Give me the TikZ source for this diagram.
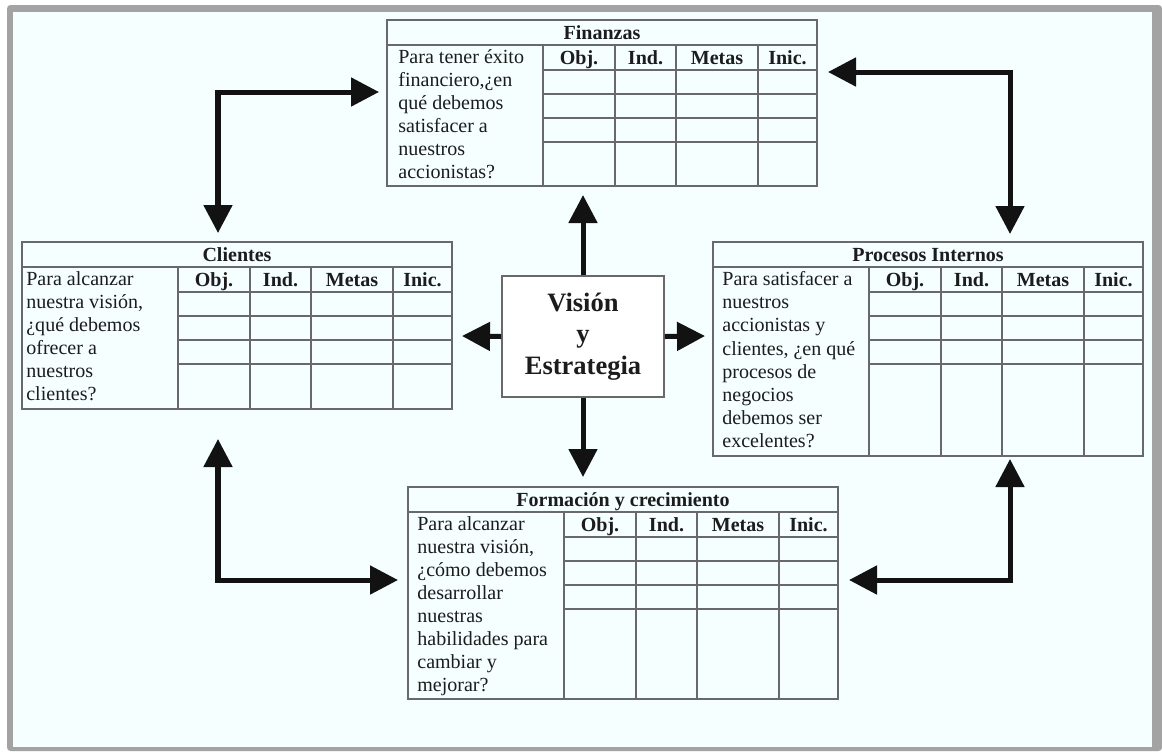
\documentclass[tikz,border=0pt]{standalone}
\usepackage{fontspec}
\setmainfont{Liberation Serif}
\usetikzlibrary{arrows.meta}
\definecolor{fondo}{RGB}{245,255,255}
\definecolor{marco}{RGB}{163,163,163}
\definecolor{rejilla}{RGB}{105,105,105}
\definecolor{tinta}{RGB}{28,28,28}

% one perspective: name, x, y, height, text offset, title, question
\newcommand\tabla[7]{%
  \begin{scope}[shift={(#2,#3)}]
    \node[caja,minimum height=#4*0.02cm] (#1) at (0,0) {};
    \draw[linea] (0,25) -- (430,25);
    \foreach \cx in {156,228,289,371}
      \draw[linea] (\cx,25) -- (\cx,#4);
    \foreach \ry in {50,74,98,122}
      \draw[linea] (156,\ry) -- (430,\ry);
    \node[titulo] (#1-t) at (215,19.5) {#6};
    \foreach \cx/\lab [count=\i] in {192/Obj.,258.5/Ind.,330/Metas,400.5/Inic.}
      \node[titulo] (#1-c\i) at (\cx,44.5) {\lab};
    \node[pregunta] (#1-p) at (#5,29.5) {#7};
  \end{scope}}

\begin{document}
\begin{tikzpicture}[x=0.02cm,y=-0.02cm,line join=miter,
  caja/.style={draw=rejilla,line width=1.1pt,minimum width=8.6cm,inner sep=0pt,outer sep=0pt,anchor=north west},
  linea/.style={draw=rejilla,line width=1.1pt},
  titulo/.style={font=\fontsize{11.4}{13.1}\selectfont\bfseries,text=tinta,inner sep=0pt,anchor=base},
  pregunta/.style={font=\fontsize{11.4}{13.1}\selectfont,text=tinta,align=left,anchor=north west,inner sep=0pt},
  punta/.tip={Triangle[width=0.56cm,length=0.56cm]},
  flecha/.style={draw=black!93,line width=2.85pt,-punta},
  doble/.style={draw=black!93,line width=2.85pt,punta-punta}]
  \useasboundingbox (0,0) rectangle (1162,751);
  \fill[white] (0,0) rectangle (1162,751);
  \fill[marco,rounded corners=2pt] (7,5) rectangle (1162,751);
  \fill[fondo] (13,12) rectangle (1152,747);

  \tabla{fin}{387}{20}{166}{11}{Finanzas}{Para tener éxito\\financiero,¿en\\qué debemos\\satisfacer a\\nuestros\\accionistas?}
  \tabla{cli}{22}{242}{167}{4}{Clientes}{Para alcanzar\\nuestra visión,\\¿qué debemos\\ofrecer a\\nuestros\\clientes?}
  \tabla{pro}{713}{242}{214}{9}{Procesos Internos}{Para satisfacer a\\nuestros\\accionistas y\\clientes, ¿en qué\\procesos de\\negocios\\debemos ser\\excelentes?}
  \tabla{form}{408}{487}{212}{9}{Formación y crecimiento}{Para alcanzar\\nuestra visión,\\¿cómo debemos\\desarrollar\\nuestras\\habilidades para\\cambiar y\\mejorar?}

  \node[draw=rejilla,line width=1.1pt,fill=white,minimum width=3.24cm,minimum height=2.42cm,inner sep=0pt,
    align=center,text=tinta,font=\fontsize{15.1}{17.9}\selectfont\bfseries] (vis) at (583,336.5) {Visión\\y\\Estrategia};

  % free ends of the arrows
  \coordinate (vN) at (583,195);
  \coordinate (vS) at (583,477);
  \coordinate (vE) at (705,336);
  \coordinate (vW) at (462,336);
  \coordinate (cliN) at (218,233);
  \coordinate (finW) at (379,92);
  \coordinate (finE) at (828,72);
  \coordinate (proN) at (1010,234);
  \coordinate (cliS) at (218,439);
  \coordinate (formW) at (398,580);
  \coordinate (formE) at (849,580);
  \coordinate (proS) at (1010,459);

  \draw[flecha] (vis.north) -- (vN);
  \draw[flecha] (vis.south) -- (vS);
  \draw[flecha] (vis.east) -- (vE);
  \draw[flecha] (vis.west) -- (vW);
  \draw[doble] (cliN) |- (finW);
  \draw[doble] (finE) -| (proN);
  \draw[doble] (cliS) |- (formW);
  \draw[doble] (formE) -| (proS);
\end{tikzpicture}
\end{document}
